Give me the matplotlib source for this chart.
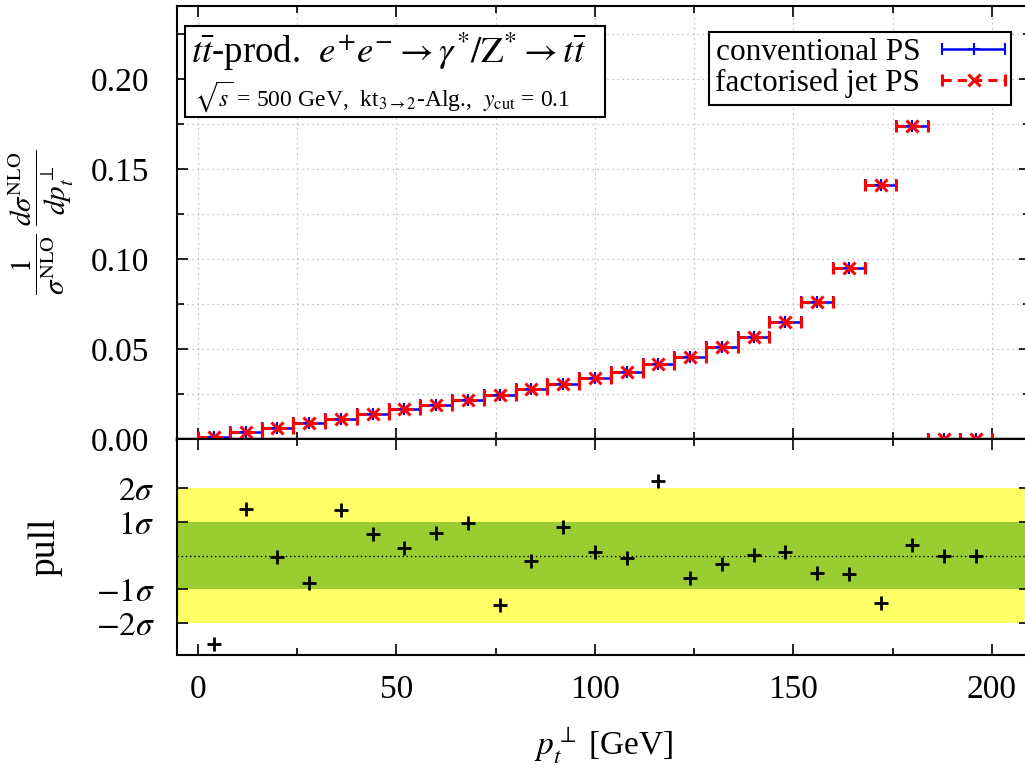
import matplotlib
matplotlib.use("Agg")
import matplotlib.pyplot as plt
from matplotlib.patches import Rectangle
from matplotlib.ticker import MultipleLocator, FixedLocator
from matplotlib.legend_handler import HandlerErrorbar

plt.rcParams['font.family'] = ['Liberation Serif', 'DejaVu Serif']
plt.rcParams['mathtext.fontset'] = 'stix'

# bin centres (8 GeV wide bins)
pt = [4, 12, 20, 28, 36, 44, 52, 60, 68, 76, 84, 92, 100,
      108, 116, 124, 132, 140, 148, 156, 164, 172, 180, 188, 196]
half_width = 4

conv_ps = [0.0013, 0.0037, 0.0063, 0.0087, 0.0113, 0.0139, 0.0165, 0.0190, 0.0217,
           0.0244, 0.0278, 0.0306, 0.0340, 0.0374, 0.0417, 0.0457, 0.0509, 0.0569,
           0.0648, 0.0761, 0.0948, 0.1411, 0.1739, 0.0, 0.0]
fact_ps = [0.0013, 0.0037, 0.0063, 0.0087, 0.0113, 0.0139, 0.0165, 0.0190, 0.0217,
           0.0244, 0.0278, 0.0306, 0.0340, 0.0374, 0.0417, 0.0457, 0.0509, 0.0569,
           0.0648, 0.0761, 0.0948, 0.1411, 0.1739, 0.0, 0.0]

pull = [-2.63, 1.40, -0.04, -0.82, 1.35, 0.65, 0.24, 0.66, 0.97, -1.46, -0.15, 0.84, 0.10,
        -0.07, 2.21, -0.67, -0.26, 0.03, 0.10, -0.52, -0.55, -1.42, 0.32, -0.02, -0.02]

pull_ticks = [-2, -1, 1, 2]
pull_labels = [r'$-2\sigma$', r'$-1\sigma$', r'$1\sigma$', r'$2\sigma$']

fig = plt.figure(figsize=(10.25, 7.69), dpi=100)
ax = fig.add_axes([0.1727, 0.4291, 0.832, 0.5631])
axp = fig.add_axes([0.1727, 0.1482, 0.832, 0.2809], sharex=ax)

# upper panel
eb1 = ax.errorbar(pt, conv_ps, xerr=half_width, fmt='+', color='blue', ms=9, mew=1.5,
                  elinewidth=1.8, capsize=4, capthick=1.8, label='conventional PS', zorder=3)
eb2 = ax.errorbar(pt, fact_ps, xerr=half_width, fmt='x', color='red', ms=8, mew=2.2,
                  elinewidth=2.2, capsize=4, capthick=2.2, label='factorised jet PS', zorder=4)
eb2[2][0].set_linestyle((0, (3, 2)))
for eb in (eb1, eb2):
    for a in eb.get_children():
        a.set_clip_on(False)

ax.set_xlim(-5.3, 209.6)
ax.set_ylim(0, 0.2406)
ax.xaxis.set_major_locator(MultipleLocator(50))
ax.xaxis.set_minor_locator(MultipleLocator(25))
ax.yaxis.set_major_locator(MultipleLocator(0.05))
ax.yaxis.set_minor_locator(MultipleLocator(0.025))
ax.yaxis.set_major_formatter(plt.FuncFormatter(lambda v, p: f'{v:.2f}'))
ax.grid(True, which='both', color='#b0b0b0', linestyle=(0, (1, 3)), linewidth=0.9)
ax.tick_params(which='both', direction='in', top=True, right=True, labelbottom=False,
               labelsize=24, width=1.2)
ax.tick_params(axis='y', pad=20)
ax.tick_params(which='major', length=8)
ax.tick_params(which='minor', length=5)
for s in ax.spines.values():
    s.set_linewidth(1.5)
ax.spines['bottom'].set_linewidth(2.5)

ax.set_ylabel(r'$\dfrac{1}{\sigma^{\mathrm{NLO}}}\;\dfrac{d\sigma^{\mathrm{NLO}}}{dp_t^{\perp}}$',
              fontsize=21)
ax.yaxis.set_label_coords(-0.118, 0.5)

# process box
ax.add_patch(Rectangle((0.0095, 0.744), 0.4925, 0.21, transform=ax.transAxes,
                       fill=True, facecolor='white', edgecolor='black', linewidth=1.5, zorder=5))
ax.text(0.016, 0.895, r'$t\bar{t}$-prod.  $e^{+}e^{-}\rightarrow\gamma^{*}/\mathrm{Z}^{*}\rightarrow t\bar{t}$',
        transform=ax.transAxes, fontsize=26.5, va='center', ha='left', zorder=6)
ax.text(0.02, 0.79, r'$\sqrt{s}$ = 500 GeV,  kt$_{3\rightarrow2}$-Alg.,  $y_{\mathrm{cut}}$ = 0.1',
        transform=ax.transAxes, fontsize=17, va='center', ha='left', zorder=6)

leg = ax.legend(loc='upper right', bbox_to_anchor=(0.978, 0.940), borderaxespad=0,
                fontsize=22.5, markerfirst=False, fancybox=False, framealpha=1,
                edgecolor='black', handlelength=2.0, labelspacing=0.05, borderpad=0.2,
                handletextpad=0.7,
                handler_map={type(eb1): HandlerErrorbar(xerr_size=1.0, numpoints=1)})
leg.get_frame().set_linewidth(1.5)
leg.set_zorder(6)

# pull panel
axp.axhspan(-2, 2, color='#ffff66', lw=0, zorder=0)
axp.axhspan(-1, 1, color='#9acd32', lw=0, zorder=1)
axp.axhline(0, color='black', linestyle=(0, (1, 2)), linewidth=1, zorder=2)
axp.plot(pt, pull, linestyle='none', marker='+', color='black', ms=10, mew=2, zorder=3)
axp.set_ylim(-2.96, 3.47)
axp.yaxis.set_major_locator(FixedLocator(pull_ticks))
axp.set_yticklabels(pull_labels)
axp.tick_params(which='both', direction='in', top=True, right=True, labelsize=24, width=1.2)
axp.tick_params(which='major', length=8)
axp.tick_params(which='minor', length=5)
axp.tick_params(axis='x', pad=14)
axp.tick_params(axis='y', pad=16)
for s in axp.spines.values():
    s.set_linewidth(1.5)
axp.set_ylabel('pull', fontsize=27)
axp.yaxis.set_label_coords(-0.135, 0.5)
axp.set_xlabel(r'$p_t^{\perp}$ [GeV]', fontsize=24, labelpad=15)

fig.savefig('out.png', dpi=100)
